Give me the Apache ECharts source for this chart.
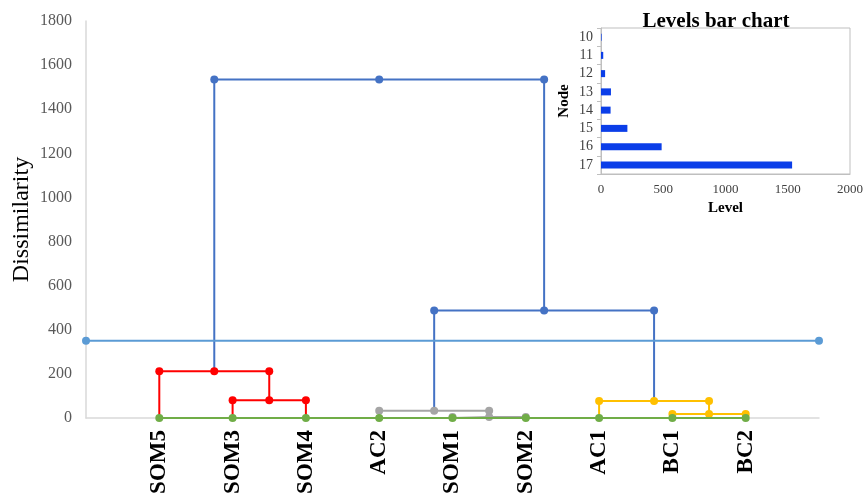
<!DOCTYPE html>
<html><head><meta charset="utf-8">
<script src="https://cdn.jsdelivr.net/npm/echarts@6/dist/echarts.min.js"></script>
<style>html,body{margin:0;padding:0;background:#fff}#c{width:863px;height:494px}</style>
</head><body><div id="c"></div>
<script>
// Leaves (ids 1..9, left to right)
const leafNames = ['SOM5','SOM3','SOM4','AC2','SOM1','SOM2','AC1','BC1','BC2'];
// Merge nodes 10..17
const nodeIds = ['10','11','12','13','14','15','16','17'];
const mergeLeft  = [5, 8, 4, 2, 7, 1, 12, 15];
const mergeRight = [6, 9, 10, 3, 11, 13, 14, 16];
const levels     = [5, 18, 33, 80, 77, 212, 487, 1535];
const cutLevel = 350;
const yTicks = [0, 1800, 200];
const insetXTicks = [0, 2000, 500];

const mergeColors = ['#a5a5a5','#ffc000','#a5a5a5','#ff0000','#ffc000','#ff0000','#4472c4','#4472c4'];
const SERIF = '"Liberation Serif","Times New Roman",serif';

// node positions
const posX = {}, posH = {};
leafNames.forEach((n,i)=>{posX[i+1]=i+1; posH[i+1]=0;});
nodeIds.forEach((id,k)=>{
  const l=mergeLeft[k], r=mergeRight[k];
  posX[+id]=(posX[l]+posX[r])/2; posH[+id]=levels[k];
});

const series = [];
series.push({type:'line', xAxisIndex:0, yAxisIndex:0, data: leafNames.map((n,i)=>[i+1,0]),
  symbol:'circle', symbolSize:8, lineStyle:{color:'#70ad47',width:2}, itemStyle:{color:'#70ad47'}, z:3, animation:false});
nodeIds.forEach((id,k)=>{
  const l=mergeLeft[k], r=mergeRight[k], h=levels[k];
  series.push({type:'line', xAxisIndex:0, yAxisIndex:0,
    data:[{value:[posX[l],posH[l]],symbol:'none'},[posX[l],h],[posX[+id],h],[posX[r],h],{value:[posX[r],posH[r]],symbol:'none'}],
    symbol:'circle', symbolSize:8, lineStyle:{color:mergeColors[k],width:2}, itemStyle:{color:mergeColors[k]}, z:2, animation:false});
});
series.push({type:'line', xAxisIndex:0, yAxisIndex:0, data:[[0,cutLevel],[leafNames.length+1,cutLevel]],
  symbol:'circle', symbolSize:8, lineStyle:{color:'#5b9bd5',width:2}, itemStyle:{color:'#5b9bd5'}, z:2, animation:false});
series.push({type:'bar', xAxisIndex:1, yAxisIndex:1, data: levels, barWidth:7, itemStyle:{color:'#0b3ee8'}, animation:false});

const chart = echarts.init(document.getElementById('c'));
chart.setOption({
  animation:false,
  title:{text:'Levels bar chart', left:711, top:6, textAlign:'center',
    textStyle:{fontFamily:SERIF, fontWeight:'bold', fontSize:21, color:'#000'}},
  grid:[
    {left:86, top:21, width:733, height:397, outerBoundsMode:'none', containLabel:false},
    {left:601, top:28, width:249, height:146, outerBoundsMode:'none', containLabel:false, show:true, borderColor:'#bfbfbf', borderWidth:1, backgroundColor:'transparent'}
  ],
  xAxis:[
    {type:'value', gridIndex:0, min:0, max:leafNames.length+1, interval:1,
     axisLine:{show:true, lineStyle:{color:'#d9d9d9', width:1.5}}, axisTick:{show:false}, splitLine:{show:false},
     axisLabel:{rotate:90, margin:12, fontFamily:SERIF, fontWeight:'bold', fontSize:23, color:'#000',
       formatter:v=>leafNames[v-1]||''}},
    {type:'value', gridIndex:1, min:insetXTicks[0], max:insetXTicks[1], interval:insetXTicks[2],
     name:'Level', nameLocation:'middle', nameGap:27, nameMoveOverlap:false,
     nameTextStyle:{fontFamily:SERIF, fontWeight:'bold', fontSize:15, color:'#000'},
     axisLine:{show:true, lineStyle:{color:'#bfbfbf'}}, axisTick:{show:false}, splitLine:{show:false},
     axisLabel:{fontFamily:SERIF, fontSize:13, color:'#404040', margin:9, formatter:v=>String(v)}}
  ],
  yAxis:[
    {type:'value', gridIndex:0, min:yTicks[0], max:yTicks[1], interval:yTicks[2],
     name:'Dissimilarity', nameLocation:'middle', nameGap:52, nameMoveOverlap:false,
     nameTextStyle:{fontFamily:SERIF, fontSize:24, color:'#000'},
     axisLine:{show:true, lineStyle:{color:'#d9d9d9', width:1.5}}, axisTick:{show:false}, splitLine:{show:false},
     axisLabel:{fontFamily:SERIF, fontSize:16, color:'#595959', margin:14, formatter:v=>String(v)}},
    {type:'category', gridIndex:1, data:nodeIds, inverse:true,
     name:'Node', nameLocation:'middle', nameGap:29, nameMoveOverlap:false,
     nameTextStyle:{fontFamily:SERIF, fontWeight:'bold', fontSize:15, color:'#000'},
     axisLine:{show:true, lineStyle:{color:'#bfbfbf'}}, axisTick:{show:true, length:4, lineStyle:{color:'#bfbfbf'}},
     axisLabel:{fontFamily:SERIF, fontSize:14, color:'#404040', margin:8}}
  ],
  series: series
});
</script></body></html>
